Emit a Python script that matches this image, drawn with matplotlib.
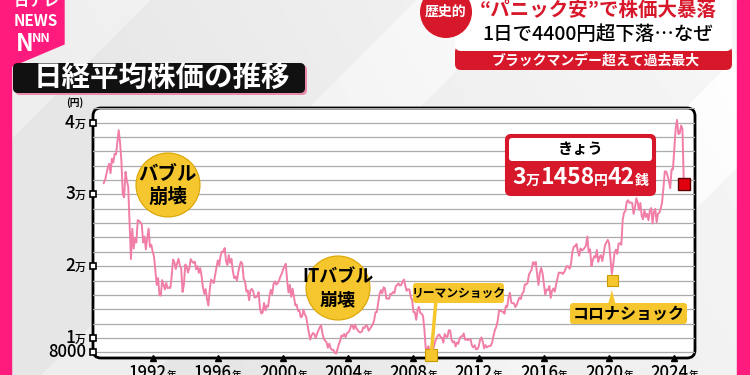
import numpy as np
import matplotlib.pyplot as plt
from matplotlib.patches import FancyBboxPatch, Circle, Rectangle, Polygon
from matplotlib.offsetbox import TextArea, HPacker, AnnotationBbox

plt.rcParams['font.family'] = ['Noto Sans CJK JP', 'DejaVu Sans']

# 日経平均 月末終値 (1989年1月〜2024年7月) + 2024年8月5日終値
start_year = 1989
closes = [
    31581, 31985, 32838, 33713, 34266, 32948, 34954, 34431, 35636, 35549, 37268, 38916,  # 1989
    37189, 34591, 29980, 29584, 33131, 31940, 31035, 25978, 20984, 25194, 22454, 23849,  # 1990
    23293, 26409, 26292, 26111, 25790, 23291, 24121, 22336, 23916, 25222, 22688, 22984,  # 1991
    22023, 21339, 19346, 17391, 18348, 15952, 15910, 18061, 17399, 16767, 17684, 16925,  # 1992
    17024, 16953, 18591, 20919, 20552, 19591, 20380, 21027, 20106, 19703, 16408, 17417,  # 1993
    20229, 19997, 19112, 19725, 20974, 20644, 20449, 20629, 19564, 19990, 19076, 19723,  # 1994
    18650, 17053, 16140, 16807, 15437, 14517, 16678, 18117, 17913, 17655, 18744, 19868,  # 1995
    20813, 20125, 21407, 22041, 21956, 22531, 20693, 20167, 21556, 20467, 21020, 19361,  # 1996
    18330, 18557, 18003, 19151, 20069, 20605, 20331, 18229, 17888, 16459, 16636, 15259,  # 1997
    16628, 16832, 16527, 15641, 15671, 15830, 16379, 14108, 13406, 13565, 14883, 13842,  # 1998
    14499, 14368, 15837, 16701, 16112, 17530, 17862, 17437, 17605, 17942, 18558, 18934,  # 1999
    19540, 19960, 20337, 17973, 16332, 17411, 15727, 16861, 15747, 14540, 14649, 13786,  # 2000
    13844, 12884, 12999, 13934, 13262, 12969, 11861, 10713, 9775, 10366, 10697, 10543,   # 2001
    9998, 10588, 11025, 11493, 11764, 10622, 9877, 9619, 9383, 8640, 9216, 8579,         # 2002
    8340, 8363, 7973, 7831, 8425, 9083, 9563, 10344, 10219, 10560, 10101, 10677,         # 2003
    10784, 11042, 11715, 11762, 11236, 11859, 11326, 11082, 10824, 10771, 10899, 11489,  # 2004
    11388, 11741, 11669, 11009, 11277, 11584, 11900, 12414, 13574, 13607, 14872, 16111,  # 2005
    16650, 16206, 17060, 16907, 15467, 15505, 15457, 16141, 16128, 16399, 16274, 17226,  # 2006
    17383, 17604, 17288, 17400, 17876, 18138, 17249, 16569, 16786, 16738, 15681, 15308,  # 2007
    13592, 13603, 12526, 13850, 14339, 13482, 13377, 13073, 11260, 8577, 8512, 8860,     # 2008
    7994, 7568, 8110, 8828, 9523, 9958, 10357, 10493, 10133, 10035, 9346, 10546,         # 2009
    10198, 10126, 11090, 11057, 9769, 9383, 9537, 8824, 9369, 9202, 9937, 10229,         # 2010
    10238, 10624, 9755, 9850, 9694, 9816, 9833, 8955, 8700, 8988, 8435, 8455,            # 2011
    8803, 9723, 10084, 9521, 8543, 9007, 8695, 8840, 8870, 8928, 9446, 10395,            # 2012
    11139, 11559, 12398, 13861, 13775, 13677, 13668, 13389, 14456, 14328, 15662, 16291,  # 2013
    14915, 14841, 14828, 14304, 14632, 15162, 15621, 15425, 16174, 16414, 17460, 17451,  # 2014
    17674, 18798, 19207, 19520, 20563, 20236, 20585, 18890, 17388, 19083, 19747, 19034,  # 2015
    17518, 16027, 16759, 16666, 17235, 15576, 16569, 16887, 16450, 17425, 18308, 19114,  # 2016
    19041, 19119, 18909, 19197, 19651, 20033, 19925, 19646, 20356, 22012, 22725, 22765,  # 2017
    23098, 22068, 21454, 22468, 22202, 22305, 22554, 22865, 24120, 21920, 22351, 20015,  # 2018
    20773, 21385, 21206, 22259, 20601, 21276, 21522, 20704, 21756, 22927, 23294, 23657,  # 2019
    23205, 21143, 18917, 20194, 21878, 22288, 21710, 23140, 23185, 22977, 26434, 27444,  # 2020
    27663, 28966, 29179, 28813, 28860, 28792, 27284, 28090, 29453, 28893, 27822, 28792,  # 2021
    27002, 26527, 27821, 26848, 27280, 26393, 27802, 28092, 25937, 27587, 27969, 26095,  # 2022
    27327, 27446, 28041, 28856, 30888, 33189, 33172, 32619, 31858, 30859, 33487, 33464,  # 2023
    36287, 39166, 40369, 38406, 38488, 39583, 39102, 31458,                              # 2024
]

y_tick_values = [40000, 30000, 20000, 10000, 8000]
y_tick_labels = [('4', '万'), ('3', '万'), ('2', '万'), ('1', '万'), ('8000', '')]
x_tick_years = [1992, 1996, 2000, 2004, 2008, 2012, 2016, 2020, 2024]
today_parts = [('3', 16.5), ('万', 10), ('1458', 16.5), ('円', 10), ('42', 16.5), ('銭', 10)]

PINK = '#FF1B7D'
RED = '#D7182A'
YELLOW = '#F6C62F'
LINE = '#F07EA8'

t = start_year + np.arange(len(closes)) / 12
closes = np.array(closes)


def packed(parts, color='black', weight='bold'):
    areas = [TextArea(s, textprops=dict(fontsize=fs, color=color, fontweight=weight))
             for s, fs in parts if s]
    return HPacker(children=areas, align='baseline', pad=0, sep=0)


fig = plt.figure(figsize=(7.5, 3.75), dpi=100)

# 背景 (ピクセル座標)
bg = fig.add_axes([0, 0, 1, 1], zorder=0)
bg.set_xlim(0, 750)
bg.set_ylim(375, 0)
bg.axis('off')
yy, xx = np.mgrid[0:375, 0:750]
shade = 0.90 + 0.07 * np.clip((xx - 0.6 * yy) / 750, 0, 1)
shade += 0.03 * (np.sin((xx + yy) / 60.0) > 0.6)
bg.imshow(np.clip(shade, 0, 1), cmap='gray', vmin=0, vmax=1, extent=(0, 750, 375, 0), aspect='auto')
bg.add_patch(Rectangle((0, 0), 11, 375, color=PINK, zorder=3))
bg.add_patch(Rectangle((737, 0), 13, 375, color=PINK, zorder=3))
bg.add_patch(Polygon([(0, 0), (64, 0), (64, 44), (12, 66), (0, 66)], color=PINK, zorder=3))
bg.text(36, 1, '日テレ', color='white', fontsize=11, fontweight='bold', ha='center', va='center', zorder=4)
bg.text(36, 21, 'NEWS', color='white', fontsize=11, fontweight='bold', ha='center', va='center', zorder=4)
bg.text(16, 44, 'N', color='white', fontsize=17, fontweight='bold', ha='left', va='center', zorder=4)
bg.text(32, 38, 'NN', color='white', fontsize=9, fontweight='bold', ha='left', va='center', zorder=4)

# タイトル
bg.add_patch(FancyBboxPatch((15, 65), 292, 30, boxstyle='round,pad=0,rounding_size=5',
                            fc='#E88AA8', ec='none', zorder=4))
bg.add_patch(FancyBboxPatch((13, 63), 292, 30, boxstyle='round,pad=0,rounding_size=5',
                            fc='#111111', ec='none', zorder=5))
bg.text(162, 78, '日経平均株価の推移', color='white', fontsize=20.5, fontweight='bold',
        ha='center', va='center', zorder=6)

# 見出し (右上)
bg.add_patch(FancyBboxPatch((455, 46), 277, 24, boxstyle='round,pad=0,rounding_size=6',
                            fc=RED, ec='none', zorder=4))
bg.add_patch(FancyBboxPatch((455, -10), 277, 61, boxstyle='round,pad=0,rounding_size=6',
                            fc='white', ec='none', zorder=5))
bg.add_patch(Circle((446, 12), 26, fc=RED, ec='none', zorder=6))
bg.text(446, 12, '歴史的', color='white', fontsize=10, fontweight='bold', ha='center', va='center', zorder=7)
bg.text(598, 10, '“パニック安”で株価大暴落', color=RED, fontsize=14, fontweight='bold',
        ha='center', va='center', zorder=7)
bg.text(598, 34, '1日で4400円超下落…なぜ', color='black', fontsize=14, fontweight='medium',
        ha='center', va='center', zorder=7)
bg.text(596, 61, 'ブラックマンデー超えて過去最大', color='white', fontsize=10, fontweight='bold',
        ha='center', va='center', zorder=7)

# グラフ枠
bg.add_patch(FancyBboxPatch((93, 108), 602, 250, boxstyle='round,pad=0,rounding_size=8',
                            fc='white', ec='black', lw=2, zorder=4))
bg.text(75, 103, '(円)', fontsize=7, fontweight='bold', ha='center', va='center', zorder=6)

# 折れ線
ax = fig.add_axes([93 / 750, 1 - 358 / 375, 602 / 750, 250 / 375], zorder=1)
ax.patch.set_alpha(0)
ax.set_xlim(1988.34, 2025.27)
ax.set_ylim(7214, 42020)
ax.set_axis_off()
for g in range(8000, 42001, 2000):
    ax.axhline(g, color='#ABABAB', lw=0.9, zorder=1)
ax.plot(t, closes, color=LINE, lw=1.4, zorder=2)

x0, x1 = ax.get_xlim()
y0, y1 = ax.get_ylim()
ax.plot(x_tick_years, [y0] * len(x_tick_years), ls='none', marker='^', color='black',
        ms=5, clip_on=False, zorder=5)
ax.plot([x0] * len(y_tick_values), y_tick_values, ls='none', marker='s', mfc='white',
        mec='black', mew=1.2, ms=5, clip_on=False, zorder=5)

for v, (num, unit) in zip(y_tick_values, y_tick_labels):
    size = 12 if unit == '' else 12.5
    ab = AnnotationBbox(packed([(num, size), (unit, 8)], weight='medium'), (x0, v),
                        xybox=(-5, 0), xycoords='data', boxcoords='offset points',
                        box_alignment=(1, 0.5), frameon=False, annotation_clip=False)
    ax.add_artist(ab)
for yr in x_tick_years:
    ab = AnnotationBbox(packed([(str(yr), 12), ('年', 7)], weight='medium'), (yr, y0),
                        xybox=(0, -11), xycoords='data', boxcoords='offset points',
                        box_alignment=(0.5, 0.5), frameon=False, annotation_clip=False)
    ax.add_artist(ab)

# 前景 (注記)
fg = fig.add_axes([0, 0, 1, 1], zorder=2)
fg.set_xlim(0, 750)
fg.set_ylim(375, 0)
fg.axis('off')
fg.patch.set_alpha(0)


def to_px(x, y):
    dx, dy = ax.transData.transform((x, y))
    return dx, 375 - dy


lehman = np.argmin(np.where((t > 2008) & (t < 2010), closes, np.inf))
corona = np.argmin(np.where((t > 2019.9) & (t < 2020.5), closes, np.inf))
lx, ly = to_px(t[lehman], closes[lehman])
cx, cy = to_px(t[corona], closes[corona])
tx, ty = to_px(t[-1], closes[-1])

for cxy, lines, fs in [((168, 185), ('バブル', '崩壊'), 14), ((338, 288), ('ITバブル', '崩壊'), 13)]:
    fg.add_patch(Circle(cxy, 32, fc=YELLOW, ec='#D9A400', lw=0.8))
    fg.text(cxy[0], cxy[1] - 11, lines[0], fontsize=fs, fontweight='bold', ha='center', va='center')
    fg.text(cxy[0], cxy[1] + 12, lines[1], fontsize=fs, fontweight='bold', ha='center', va='center')

fg.plot([436, lx], [300, ly], color=YELLOW, lw=2.5, solid_capstyle='butt')
fg.add_patch(FancyBboxPatch((413, 283), 91, 20, boxstyle='round,pad=0,rounding_size=3', fc=YELLOW, ec='none'))
fg.text(458.5, 293, 'リーマンショック', fontsize=8.5, fontweight='bold', ha='center', va='center')
fg.add_patch(Rectangle((lx - 6, ly - 6), 12, 12, fc=YELLOW, ec='#C99A00', lw=0.8))

fg.add_patch(Polygon([(cx - 4, 305), (cx + 4, 305), (cx, 290)], fc=YELLOW, ec='none'))
fg.add_patch(FancyBboxPatch((570, 303), 117, 21, boxstyle='round,pad=0,rounding_size=3', fc=YELLOW, ec='none'))
fg.text(628.5, 313.5, 'コロナショック', fontsize=11.5, fontweight='bold', ha='center', va='center')
fg.add_patch(Rectangle((cx - 5, cy + 1), 11, 11, fc=YELLOW, ec='#C99A00', lw=0.8))

fg.add_patch(FancyBboxPatch((506, 135), 149, 60, boxstyle='round,pad=0,rounding_size=5',
                            fc=RED, ec=RED, lw=1.5))
fg.add_patch(FancyBboxPatch((509, 138), 143, 23, boxstyle='round,pad=0,rounding_size=3',
                            fc='white', ec='none'))
fg.text(580.5, 149, 'きょう', fontsize=11, fontweight='bold', ha='center', va='center')
fg.add_artist(AnnotationBbox(packed(today_parts, color='white'), (580.5, 178), xycoords='data',
                             box_alignment=(0.5, 0.5), frameon=False, annotation_clip=False))
fg.add_patch(Rectangle((tx - 6, ty - 6), 12, 12, fc='#E00010', ec='#600000', lw=1))

fig.savefig('out.png', dpi=100)
